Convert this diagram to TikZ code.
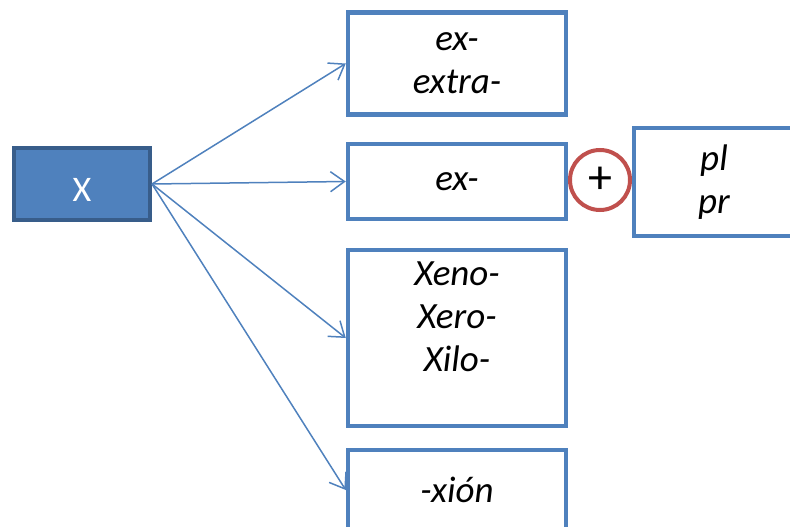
\documentclass[tikz,border=0pt]{standalone}
\usepackage{fontspec}
\setmainfont{Carlito}
\usetikzlibrary{arrows.meta}

\definecolor{boxblue}{HTML}{4F81BD}
\definecolor{darkblue}{HTML}{385D8A}
\definecolor{plusred}{HTML}{C0504D}

\begin{document}
\begin{tikzpicture}[x=1pt,y=-1pt,
    affixbox/.style={draw=boxblue,line width=4.5pt,fill=white,inner sep=0pt,
        minimum width=218pt,align=center,font=\fontsize{37}{43}\selectfont\itshape},
    link/.style={draw=boxblue,line width=1.5pt,-{Straight Barb[length=14pt,width=20pt,line width=1.5pt]}}]

\useasboundingbox (0,0) rectangle (790,527);

% root letter
\node[draw=darkblue,fill=boxblue,line width=4pt,minimum width=136pt,minimum height=72pt,
    inner sep=0pt,text=white,text height=35pt,font=\fontsize{36}{43}\selectfont] (root) at (82,184) {X};

% prefix boxes
\node[affixbox,minimum height=102pt] (exextra) at (457,63.5) {ex-\\extra-};
\node[affixbox,minimum height=75pt] (ex) at (457,181.5) {ex-};
\node[affixbox,minimum height=176pt] (xeno) at (457,338) {Xeno-\\Xero-\\Xilo-\\ \mbox{}};
\node[affixbox,minimum height=80pt] (xion) at (457,490) {-xión};
\node[affixbox,minimum width=160pt,minimum height=108pt] (plpr) at (714,182) {pl\\pr};

% plus sign
\node[circle,draw=plusred,line width=4pt,fill=white,minimum size=60pt,inner sep=0pt,
    font=\fontsize{48}{50}\selectfont] (plus) at (600,180) {+};

\foreach \Box in {exextra, ex, xeno, xion}{
    \draw[link] (root.east) -- (\Box.west);
}

\end{tikzpicture}
\end{document}
